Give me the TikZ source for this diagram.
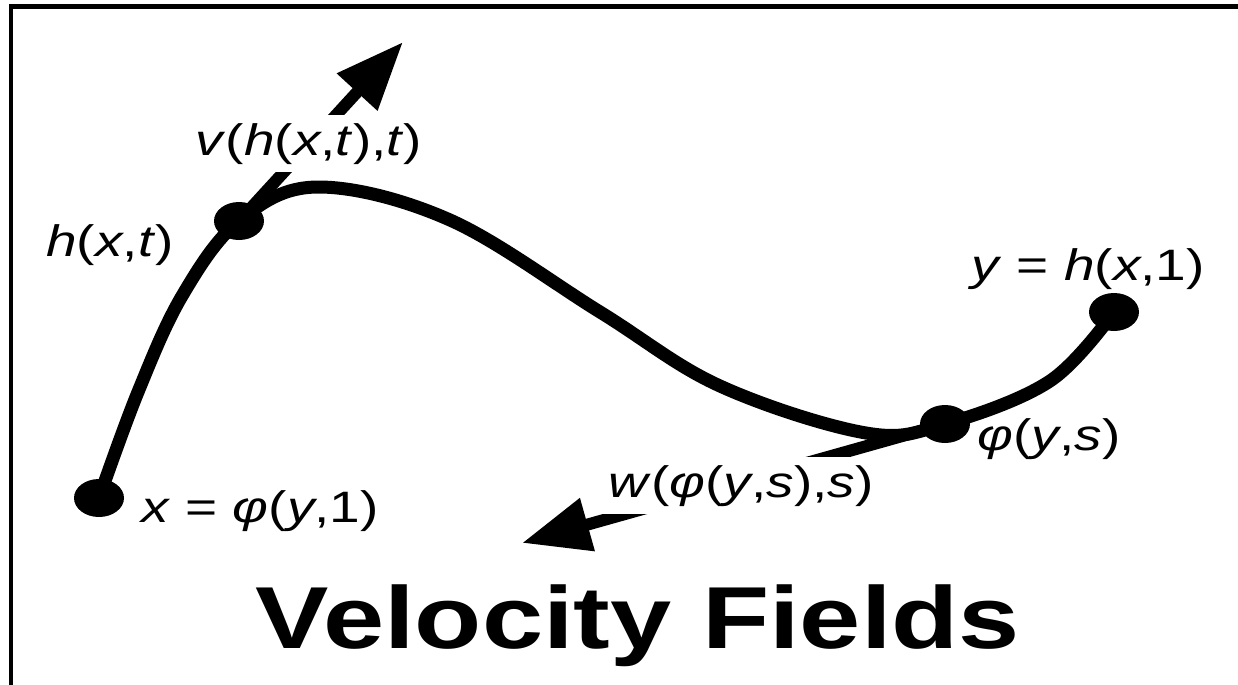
\documentclass[tikz,border=0pt]{standalone}
\usepackage{fontspec}
\setmainfont{Liberation Sans}
\usepackage{graphicx}
\usetikzlibrary{arrows.meta,shapes.geometric}
\newcommand{\stretchtxt}[1]{\scalebox{1.25}[1]{#1}}
\newcommand{\iv}[1]{\textit{#1}}
\tikzset{
  frame/.style={line width=2.3pt},
  pathline/.style={line width=6.5pt,line cap=round},
  dot/.style={ellipse,fill=black,inner sep=0pt,minimum width=25pt,minimum height=19pt},
  velarr/.style={-{Triangle[length=34pt,width=26pt]},line width=6pt},
  lab/.style={anchor=base,inner sep=4pt,font=\fontsize{22}{26}\selectfont},
  cutlab/.style={lab,fill=white},
  titletext/.style={anchor=base,inner sep=0pt,font=\fontsize{44}{50}\selectfont\bfseries}
}

\begin{document}
\begin{tikzpicture}[x=0.5pt,y=-0.5pt]
  \useasboundingbox (0,0) rectangle (1238,685);
  \draw[frame] (10.8,685) |- (1238,6.7);

  \node[dot] (A) at (99,498) {};
  \node[dot] (B) at (239,221) {};
  \node[dot] (C) at (945,424) {};
  \node[dot] (D) at (1114,312) {};
  \coordinate (vtip) at (403,42);
  \coordinate (wtip) at (522,543);

  \draw[pathline] plot[smooth,tension=0.6] coordinates {(A.center) (138,392) (182,296) (B.center)
    (318,187) (450,220) (600,312) (720,386) (866,433) (C.center) (1050,381) (D.center)};

  \draw[velarr] (B.center) -- (vtip);
  \draw[velarr] (C.center) -- (wtip);

  \node[cutlab] (vlab) at (309,155) {\stretchtxt{\iv{v}(\iv{h}(\iv{x},\iv{t}),\iv{t})}};
  \node[lab] (hlab) at (110,256) {\stretchtxt{\iv{h}(\iv{x},\iv{t})}};
  \node[lab] (xlab) at (260,522) {\stretchtxt{\iv{x} = \iv{φ}(\iv{y},1)}};
  \node[lab] (ylab) at (1088,280) {\stretchtxt{\iv{y} = \iv{h}(\iv{x},1)}};
  \node[lab] (philab) at (1049,450) {\stretchtxt{\iv{φ}(\iv{y},\iv{s})}};
  \node[cutlab] (wlab) at (741,497) {\stretchtxt{\iv{w}(\iv{φ}(\iv{y},\iv{s}),\iv{s})}};
  \node[titletext] (title) at (638,648) {\stretchtxt{Velocity Fields}};
\end{tikzpicture}
\end{document}
